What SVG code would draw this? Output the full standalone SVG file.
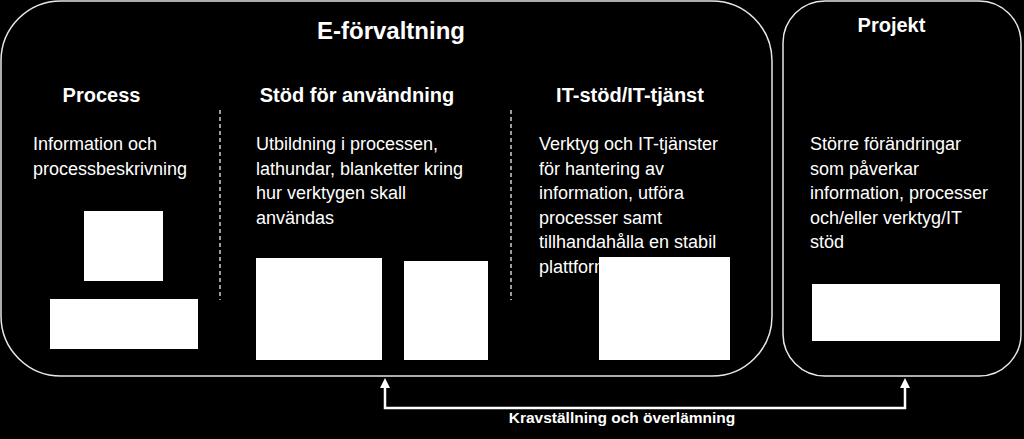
<svg xmlns="http://www.w3.org/2000/svg" width="1024" height="439" viewBox="0 0 1024 439">
<style>
.frame{fill:#000;stroke:#e8e8e8;stroke-width:1.5}
.ph{fill:#fff}
.div{stroke:#d0d0d0;stroke-width:1.5;stroke-dasharray:4 3}
text{fill:#fff;font-family:"Liberation Sans",Arial,sans-serif}
.h1{font-size:24px;font-weight:bold}
.h2{font-size:20px;font-weight:bold}
.b{font-size:18px}
.lbl{font-size:15.5px;font-weight:bold}
.conn{fill:none;stroke:#fff;stroke-width:2.5}
</style>
<defs>
<marker id="arr" viewBox="0 0 10 10" markerWidth="10" markerHeight="10" refX="1" refY="5" orient="auto-start-reverse" markerUnits="userSpaceOnUse">
<path d="M0,0 L10,5 L0,10 z" fill="#fff"/>
</marker>
</defs>
<rect width="1024" height="439" fill="#000"/>
<g id="eforvaltning">
<rect class="frame" x="1" y="1" width="771" height="375" rx="60" ry="60"/>
<text class="h1" x="391" y="39" text-anchor="middle">E-förvaltning</text>
<line class="div" x1="220" y1="110" x2="220" y2="300"/>
<line class="div" x1="511" y1="110" x2="511" y2="300"/>
</g>
<g id="process">
<text class="h2" x="101.5" y="102" text-anchor="middle">Process</text>
<text class="b" x="33" y="150">Information och</text>
<text class="b" x="33" y="175">processbeskrivning</text>
<rect class="ph" x="84" y="211" width="79" height="70"/>
<rect class="ph" x="50" y="299" width="148" height="50"/>
</g>
<g id="stod">
<text class="h2" x="357" y="102" text-anchor="middle">Stöd för användning</text>
<text class="b" x="256" y="150">Utbildning i processen,</text>
<text class="b" x="256" y="174.5">lathundar, blanketter kring</text>
<text class="b" x="256" y="199">hur verktygen skall</text>
<text class="b" x="256" y="223.5">användas</text>
<rect class="ph" x="256" y="258" width="126" height="102"/>
<rect class="ph" x="404" y="261" width="84" height="99"/>
</g>
<g id="itstod">
<text class="h2" x="630" y="102" text-anchor="middle">IT-stöd/IT-tjänst</text>
<text class="b" x="539" y="150">Verktyg och IT-tjänster</text>
<text class="b" x="539" y="174.5">för hantering av</text>
<text class="b" x="539" y="199">information, utföra</text>
<text class="b" x="539" y="223.5">processer samt</text>
<text class="b" x="539" y="248">tillhandahålla en stabil</text>
<text class="b" x="539" y="273">plattform</text>
<rect class="ph" x="599" y="257" width="131" height="103"/>
</g>
<g id="projekt">
<rect class="frame" x="783" y="1" width="238" height="375" rx="42" ry="42"/>
<text class="h2" x="891.5" y="32" text-anchor="middle">Projekt</text>
<text class="b" x="810" y="150">Större förändringar</text>
<text class="b" x="810" y="174.5">som påverkar</text>
<text class="b" x="810" y="199">information, processer</text>
<text class="b" x="810" y="223.5">och/eller verktyg/IT</text>
<text class="b" x="810" y="248">stöd</text>
<rect class="ph" x="812" y="284" width="188" height="57"/>
</g>
<g id="connectors">
<path class="conn" d="M385,387 V408 H905 V387" marker-start="url(#arr)" marker-end="url(#arr)"/>
<text class="lbl" x="622" y="423" text-anchor="middle">Kravställning och överlämning</text>
</g>
</svg>
